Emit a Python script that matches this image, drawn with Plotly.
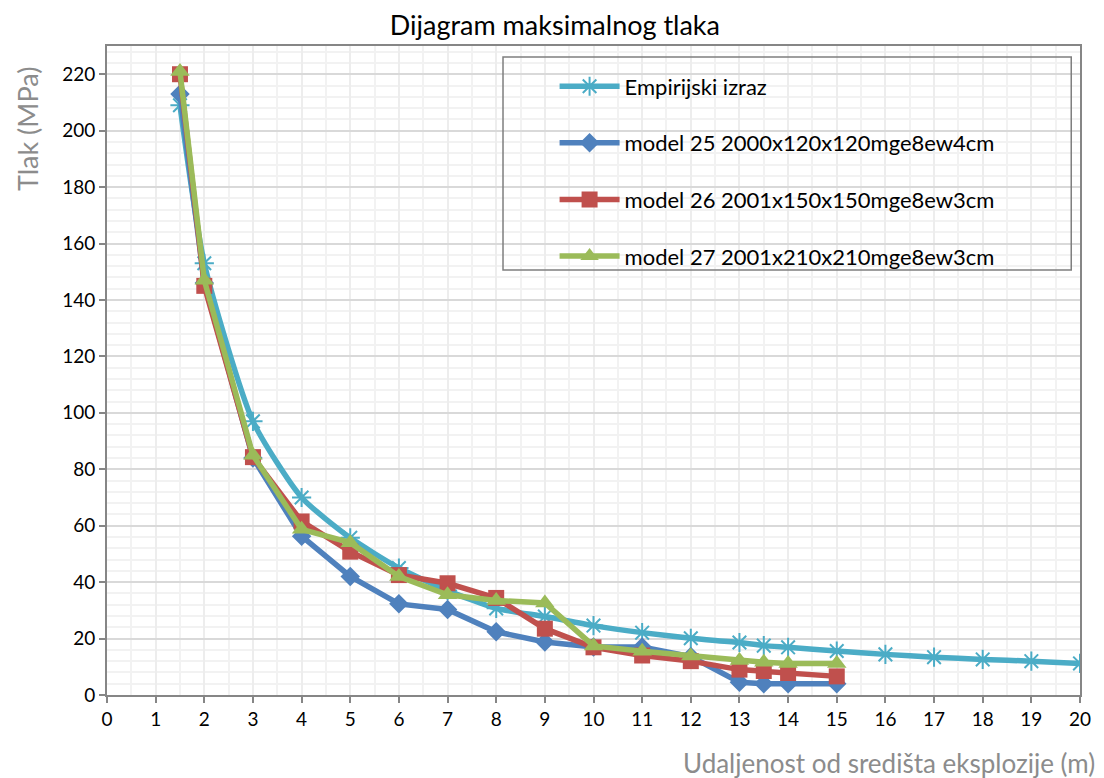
import plotly.graph_objects as go

# udaljenost (m) i tlak (MPa), ocitano sa slike
x_emp = [1.5, 2, 3, 4, 5, 6, 7, 8, 9, 10, 11, 12, 13, 13.5, 14, 15, 16, 17, 18, 19, 20]
p_emp = [209, 153, 97, 70, 55.7, 45, 37, 30.7, 27.8, 24.6, 22.1, 20.1, 18.6, 17.5, 16.9, 15.6, 14.4, 13.4, 12.6, 12, 11.2]

x_mod = [1.5, 2, 3, 4, 5, 6, 7, 8, 9, 10, 11, 12, 13, 13.5, 14, 15]
p_m25 = [213, 146, 84, 56.3, 42, 32.3, 30.3, 22.4, 18.8, 17, 17, 13.6, 4.5, 4, 4, 4]
p_m26 = [220, 145, 84.3, 61.5, 50.8, 42.5, 39.6, 34.4, 23.5, 16.9, 14, 12, 9, 8.5, 7.8, 6.6]
p_m27 = [221, 147, 85, 58.7, 54, 42, 35.5, 33.5, 32.6, 17.4, 15.5, 13.8, 12.2, 11.6, 11.2, 11.2]

names = ['Empirijski izraz',
         'model 25 2000x120x120mge8ew4cm',
         'model 26 2001x150x150mge8ew3cm',
         'model 27 2001x210x210mge8ew3cm']

x_ticks = list(range(0, 21))
y_ticks = list(range(0, 221, 20))

font = 'Lato, Open Sans, sans-serif'

fig = go.Figure()

fig.add_trace(go.Scatter(x=x_emp, y=p_emp, name=names[0], mode='lines+markers',
                         line=dict(color='#4BACC6', width=5.5, shape='spline', smoothing=0.6),
                         marker=dict(symbol='asterisk-open', size=16, line=dict(color='#4BACC6', width=2)),
                         legendgroup='a'))
fig.add_trace(go.Scatter(x=x_mod, y=p_m25, name=names[1], mode='lines+markers',
                         line=dict(color='#4F81BD', width=5.5),
                         marker=dict(symbol='diamond', size=15, color='#4F81BD'),
                         legendgroup='b'))
fig.add_trace(go.Scatter(x=x_mod, y=p_m26, name=names[2], mode='lines+markers',
                         line=dict(color='#C0504D', width=5.5),
                         marker=dict(symbol='square', size=16, color='#C0504D'),
                         legendgroup='c'))
fig.add_trace(go.Scatter(x=x_mod, y=p_m27, name=names[3], mode='lines+markers',
                         line=dict(color='#9BBB59', width=5.5),
                         marker=dict(symbol='triangle-up', size=17, color='#9BBB59'),
                         legendgroup='d'))

# okvir legende
fig.add_shape(type='rect', xref='paper', yref='paper',
              x0=0.407, x1=0.991, y0=0.655, y1=0.983,
              line=dict(color='#7F7F7F', width=1.5), fillcolor='rgba(0,0,0,0)')

fig.add_annotation(text='Udaljenost od središta eksplozije (m)', xref='paper', yref='paper',
                   x=1.0175, y=-0.105, xanchor='right', yanchor='middle', showarrow=False,
                   font=dict(size=26, color='#8C8C8C', family=font))
fig.add_annotation(text='Tlak (MPa)', xref='paper', yref='paper', textangle=-90,
                   x=-0.081, y=0.971, xanchor='center', yanchor='top', showarrow=False,
                   font=dict(size=27, color='#8C8C8C', family=font))

fig.update_layout(
    width=1096, height=770,
    margin=dict(l=99, r=24, t=38, b=83),
    plot_bgcolor='white', paper_bgcolor='white',
    font=dict(family=font, size=18, color='#000000'),
    title=dict(text='Dijagram maksimalnog tlaka', x=0.499, xanchor='center', y=0.977, yanchor='middle',
               font=dict(size=27, color='#000000', family=font)),
    xaxis=dict(range=[0, 20], tickmode='array', tickvals=x_ticks,
               showgrid=True, gridcolor='#EDEDED', gridwidth=1.5,
               minor=dict(dtick=0.5, showgrid=True, gridcolor='#F2F2F2', gridwidth=1.5),
               showline=True, linecolor='#868686', linewidth=2, mirror=True,
               ticks='outside', ticklen=6, tickcolor='#868686', tickwidth=2,
               tickfont=dict(size=19, color='#000000'), zeroline=False),
    yaxis=dict(range=[0, 230], tickmode='array', tickvals=y_ticks,
               showgrid=True, gridcolor='#D9D9D9', gridwidth=2,
               minor=dict(dtick=4, showgrid=True, gridcolor='#F2F2F2', gridwidth=1.5),
               showline=True, linecolor='#868686', linewidth=2, mirror=True,
               ticks='outside', ticklen=6, tickcolor='#868686', tickwidth=2,
               tickfont=dict(size=19, color='#000000'), zeroline=False),
    legend=dict(x=0.46, y=0.97, xanchor='left', yanchor='top',
                bgcolor='rgba(0,0,0,0)', borderwidth=0,
                font=dict(size=22, color='#000000', family=font),
                tracegroupgap=25, itemwidth=60),
)

fig.write_html('out.html')
